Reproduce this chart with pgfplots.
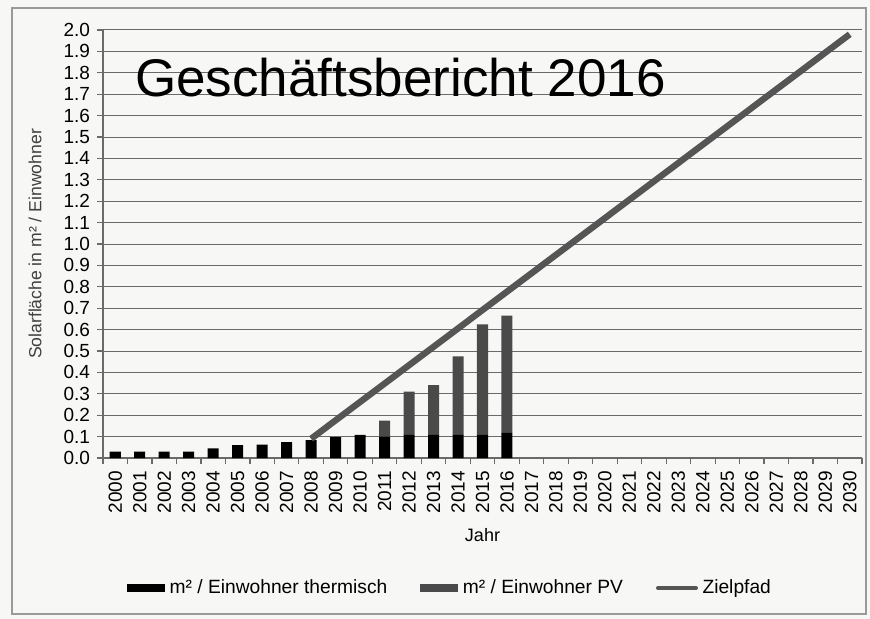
\documentclass[border=0pt]{standalone}
\usepackage{fontspec}
\setmainfont{Liberation Sans}
\usepackage{pgfplots}
\usepackage{pgfplotstable}
\pgfplotsset{compat=1.18}
\definecolor{pvgray}{HTML}{4A4A4A}
\definecolor{linegray}{HTML}{555555}
\definecolor{gridgray}{HTML}{6A6A6A}
\definecolor{paper}{HTML}{F7F7F5}
\definecolor{framegray}{HTML}{9A9A9A}

\pgfplotstableread{
idx therm pv
0  0.030 0
1  0.030 0
2  0.030 0
3  0.030 0
4  0.045 0
5  0.060 0
6  0.063 0
7  0.074 0
8  0.084 0
9  0.097 0
10 0.108 0
11 0.100 0.075
12 0.108 0.202
13 0.108 0.232
14 0.108 0.367
15 0.110 0.515
16 0.120 0.545
}\solardata

\pgfplotsset{
  common/.style={
    scale only axis, width=379.5bp, height=214bp,
    xmin=-0.5, xmax=30.5, ymin=0, ymax=2.0,
  }
}

\begin{document}
\begin{tikzpicture}
\fill[paper] (-51.5bp,-80.5bp) rectangle (383.5bp,229bp);
\begin{axis}[common,
  ybar stacked, bar width=0.45,
  axis x line=bottom, axis y line=left,
  axis line style={-, gridgray, line width=0.6bp},
  ytick={0,0.1,0.2,0.3,0.4,0.5,0.6,0.7,0.8,0.9,1.0,1.1,1.2,1.3,1.4,1.5,1.6,1.7,1.8,1.9,2.0},
  yticklabel style={/pgf/number format/.cd, fixed, fixed zerofill, precision=1},
  /pgf/number format/assume math mode=true,
  ymajorgrids, major grid style={gridgray, line width=0.5bp},
  xtick={0,1,2,3,4,5,6,7,8,9,10,11,12,13,14,15,16,17,18,19,20,21,22,23,24,25,26,27,28,29,30},
  xticklabels={2000,2001,2002,2003,2004,2005,2006,2007,2008,2009,2010,2011,2012,2013,2014,2015,2016,2017,2018,2019,2020,2021,2022,2023,2024,2025,2026,2027,2028,2029,2030},
  major x tick style={draw=none},
  minor xtick={-0.5,0.5,...,30.5},
  tick align=outside,
  major tick length=3bp, minor tick length=3bp,
  tick style={gridgray, line width=0.6bp},
  x tick label style={rotate=90, anchor=east},
  tick label style={font=\fontsize{9.5bp}{11bp}\selectfont},
  xlabel={Jahr},
  xlabel style={at={(axis description cs:0.5,-0.18)}, anchor=center, font=\fontsize{9bp}{11bp}\selectfont},
  ylabel={Solarfläche in m² / Einwohner},
  ylabel style={at={(axis description cs:-0.0896,0.5)}, anchor=center, font=\fontsize{8.8bp}{10bp}\selectfont, text=black!75},
  legend style={at={(axis description cs:0.4585,-0.3037)}, anchor=center, draw=none, fill=none,
    font=\fontsize{9.6bp}{11bp}\selectfont,
    /tikz/every even column/.append style={column sep=14.5bp},
    /tikz/every odd column/.append style={column sep=0.3bp}},
  legend columns=3, legend cell align=left,
]
\addplot[fill=black, draw=none,
  legend image code/.code={\fill[black] (0bp,-2bp) rectangle (19bp,2bp);}]
  table[x=idx, y=therm] {\solardata};
\addlegendentry{m² / Einwohner thermisch}
\addplot[fill=pvgray, draw=none,
  legend image code/.code={\fill[pvgray] (0bp,-2bp) rectangle (19bp,2bp);}]
  table[x=idx, y=pv] {\solardata};
\addlegendentry{m² / Einwohner PV}
\addlegendimage{legend image code/.code={\draw[linegray, line width=2bp, line cap=round] (1bp,0bp) -- (20bp,0bp);}}
\addlegendentry{Zielpfad}
\node[anchor=base west, inner sep=0pt, font=\fontsize{26.5bp}{30bp}\selectfont] at (rel axis cs:0.042,0.8435) {Geschäftsbericht 2016};
\end{axis}
\begin{axis}[common, hide axis]
\addplot[linegray, line width=3.2bp, mark=none] coordinates {(8,0.09) (30,1.98)};
\end{axis}
\draw[framegray, line width=0.8bp] (-45.5bp,-78bp) rectangle (381.5bp,225bp);
\pgfresetboundingbox
\useasboundingbox (-51.5bp,-80.5bp) rectangle (383.5bp,229bp);
\end{tikzpicture}
\end{document}
